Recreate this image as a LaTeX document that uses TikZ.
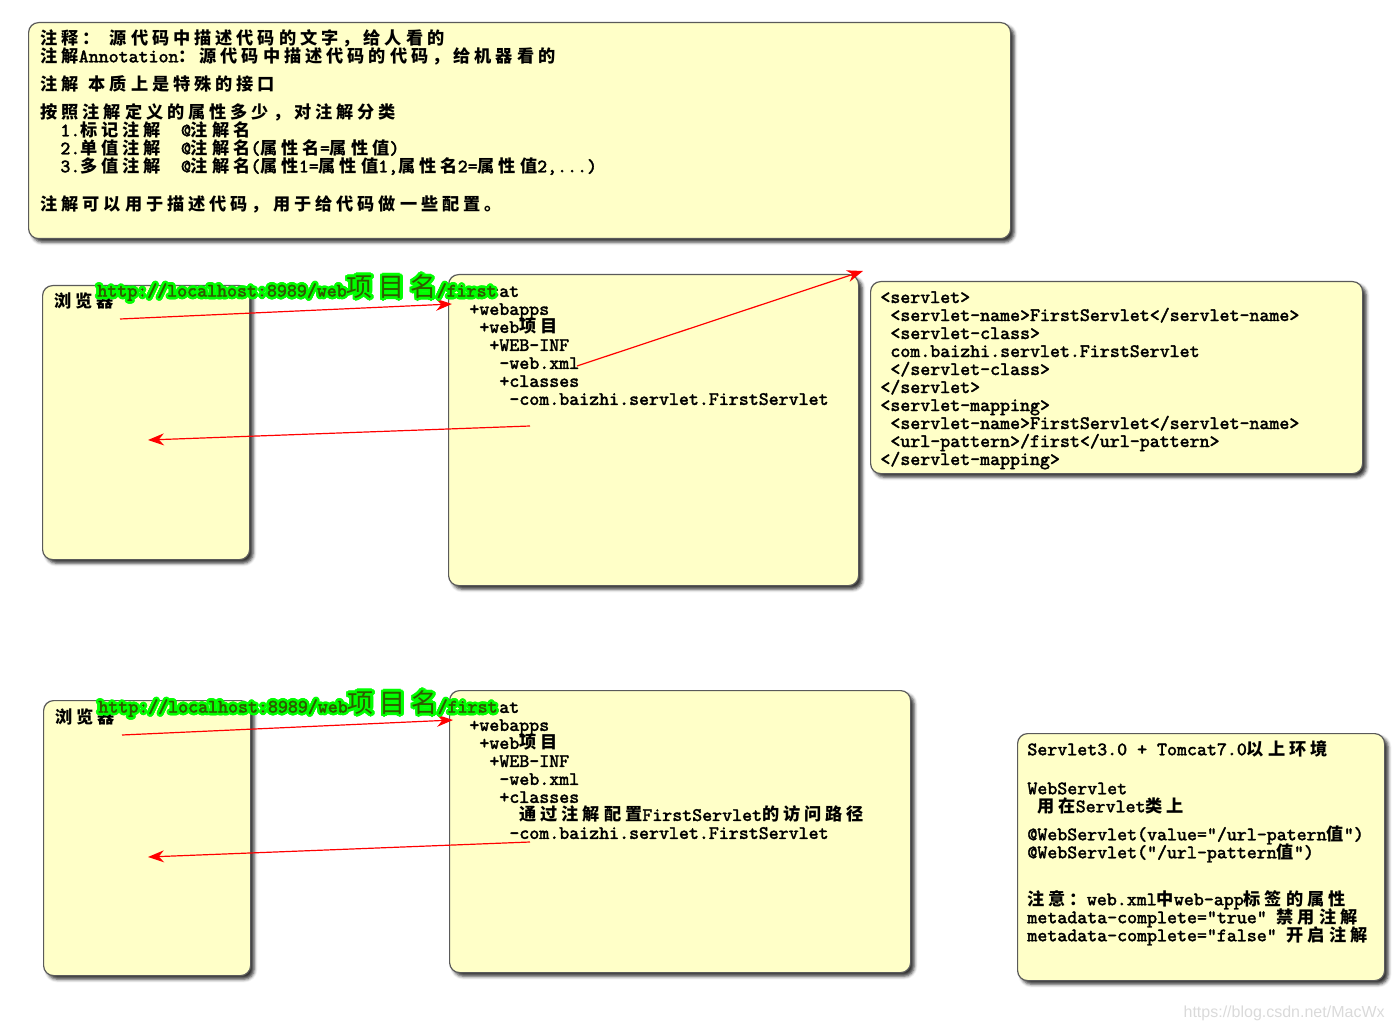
\documentclass[tikz,border=0pt]{standalone}
\usepackage{fontspec}
\setmainfont{Latin Modern Mono}[FakeBold=1.8]
\newfontfamily\cjk{Noto Sans CJK SC}[LetterSpace=23]
\newfontfamily\wmfont{Liberation Sans}
\usepackage[copies]{contour}
\usetikzlibrary{arrows.meta, positioning, shadows.blur}
\contourlength{1.3pt}
\contournumber{16}
\lineskiplimit=-20pt

\definecolor{notefill}{HTML}{FFFFC8}
\definecolor{boxline}{HTML}{5A5A5A}
\definecolor{arrowred}{HTML}{FF0000}
\definecolor{glowgreen}{HTML}{00FF00}
\definecolor{urldark}{HTML}{2F5A00}
\definecolor{wmgrey}{HTML}{DADADA}

\newcommand\zh[1]{{\cjk\bfseries\fontsize{8.6}{9}\selectfont #1}}
\newcommand\zhbig[1]{{\cjk\fontsize{13}{13}\selectfont #1}}
\newcommand\sk[1]{\hspace*{#1\dimexpr5pt\relax}}

\begin{document}
\begin{tikzpicture}[
      x=0.5pt, y=-0.5pt,
      note/.style={draw=boxline, fill=notefill, rounded corners=5pt, line width=0.6pt, anchor=north west, inner sep=0pt,
        blur shadow={shadow xshift=1.8pt, shadow yshift=-1.8pt, shadow blur radius=1.6pt, shadow opacity=80}},
      txt/.style={anchor=north west, inner sep=0pt, align=left, font=\fontsize{9.5}{9}\selectfont},
      url/.style={inner sep=0pt, font=\fontsize{9.5}{9}\selectfont, text=urldark},
      req/.style={draw=arrowred, line width=0.6pt, -{Stealth[length=8pt,width=6pt]}}
    ]
    \useasboundingbox (0,0) rectangle (1393,1032);

    % notes and boxes
    \node [note, minimum width=491pt, minimum height=108pt] (intro) at (28,22) {};
    \node [note, minimum width=103.5pt, minimum height=137pt] (browser1) at (42,285) {};
    \node [note, minimum width=205pt, minimum height=155.5pt] (server1) at (448,274) {};
    \node [note, minimum width=246pt, minimum height=96pt] (webxml) at (870,281) {};
    \node [note, minimum width=103.5pt, minimum height=137.5pt] (browser2) at (43,700) {};
    \node [note, minimum width=230.5pt, minimum height=141pt] (server2) at (449,690) {};
    \node [note, minimum width=183.5pt, minimum height=123.5pt] (servlet3) at (1017,733) {};

    \node [txt] (introtext) at ([shift={(12,7)}]intro.north west) {%
      \zh{注释：}\ \zh{源代码中描述代码的文字，给人看的}\\
      \zh{注解}Annotation\zh{：源代码中描述代码的代码，给机器看的}\\[5pt]
      \zh{注解} \zh{本质上是特殊的接口}\\[5pt]
      \zh{按照注解定义的属性多少，对注解分类}\\
      \sk{2}1.\zh{标记注解}\sk{2}@\zh{注解名}\\
      \sk{2}2.\zh{单值注解}\sk{2}@\zh{注解名}(\zh{属性名}=\zh{属性值})\\
      \sk{2}3.\zh{多值注解}\sk{2}@\zh{注解名}(\zh{属性}1=\zh{属性值}1,\zh{属性名}2=\zh{属性值}2,...)\\[10pt]
      \zh{注解可以用于描述代码，用于给代码做一些配置。}};

    \node [txt] (browsertext1) at ([shift={(12,7)}]browser1.north west) {\zh{浏览器}};
    \node [txt] (browsertext2) at ([shift={(12,8)}]browser2.north west) {\zh{浏览器}};

    \node [txt] (servertext1) at ([shift={(11,12)}]server1.north west) {%
      tomcat\\
      \sk{1}+webapps\\
      \sk{2}+web\zh{项目}\\
      \sk{3}+WEB-INF\\
      \sk{4}-web.xml\\
      \sk{4}+classes\\
      \sk{5}-com.baizhi.servlet.FirstServlet};

    \node [txt] (servertext2) at ([shift={(10,12)}]server2.north west) {%
      tomcat\\
      \sk{1}+webapps\\
      \sk{2}+web\zh{项目}\\
      \sk{3}+WEB-INF\\
      \sk{4}-web.xml\\
      \sk{4}+classes\\
      \sk{6}\zh{通过注解配置}FirstServlet\zh{的访问路径}\\
      \sk{5}-com.baizhi.servlet.FirstServlet};

    \node [txt] (webxmltext) at ([shift={(10,10)}]webxml.north west) {%
      <servlet>\\
      \sk{1}<servlet-name>FirstServlet</servlet-name>\\
      \sk{1}<servlet-class>\\
      \sk{1}com.baizhi.servlet.FirstServlet\\
      \sk{1}</servlet-class>\\
      </servlet>\\
      <servlet-mapping>\\
      \sk{1}<servlet-name>FirstServlet</servlet-name>\\
      \sk{1}<url-pattern>/first</url-pattern>\\
      </servlet-mapping>};

    \node [txt] (servlet3text) at ([shift={(10,7)}]servlet3.north west) {%
      Servlet3.0 + Tomcat7.0\zh{以上环境}\\[10.5pt]
      WebServlet\\
      \sk{1}\zh{用在}Servlet\zh{类上}\\[5pt]
      @WebServlet(value="/url-patern\zh{值}")\\
      @WebServlet("/url-pattern\zh{值}")\\[14.5pt]
      \zh{注意：}web.xml\zh{中}web-app\zh{标签的属性}\\
      metadata-complete="true" \zh{禁用注解}\\
      metadata-complete="false" \zh{开启注解}};

    % request / response arrows
    \coordinate (req1) at (120,319);
    \coordinate (req1end) at (452,304);
    \coordinate (resp1) at (530,426);
    \coordinate (resp1end) at (148,440);
    \coordinate (xmlfrom) at (577,366);
    \coordinate (xmlto) at (863,271);
    \coordinate (req2) at (122,735);
    \coordinate (req2end) at (453,720);
    \coordinate (resp2) at (530,842);
    \coordinate (resp2end) at (148,857);

    \draw [req] (req1) -- (req1end);
    \draw [req] (resp1) -- (resp1end);
    \draw [req] (xmlfrom) -- (xmlto);
    \draw [req] (req2) -- (req2end);
    \draw [req] (resp2) -- (resp2end);

    % urls typed in the browser
    \node [url] (url1) at (297,289) {\contour{glowgreen}{http://localhost:8989/web\zhbig{项目名}/first}};
    \node [url] (url2) at (298,705) {\contour{glowgreen}{http://localhost:8989/web\zhbig{项目名}/first}};

    \node [font=\wmfont\fontsize{8}{8}\selectfont, text=wmgrey, anchor=east, inner sep=0pt] (mark) at (1385,1013) {https://blog.csdn.net/MacWx};
  \end{tikzpicture}
\end{document}
